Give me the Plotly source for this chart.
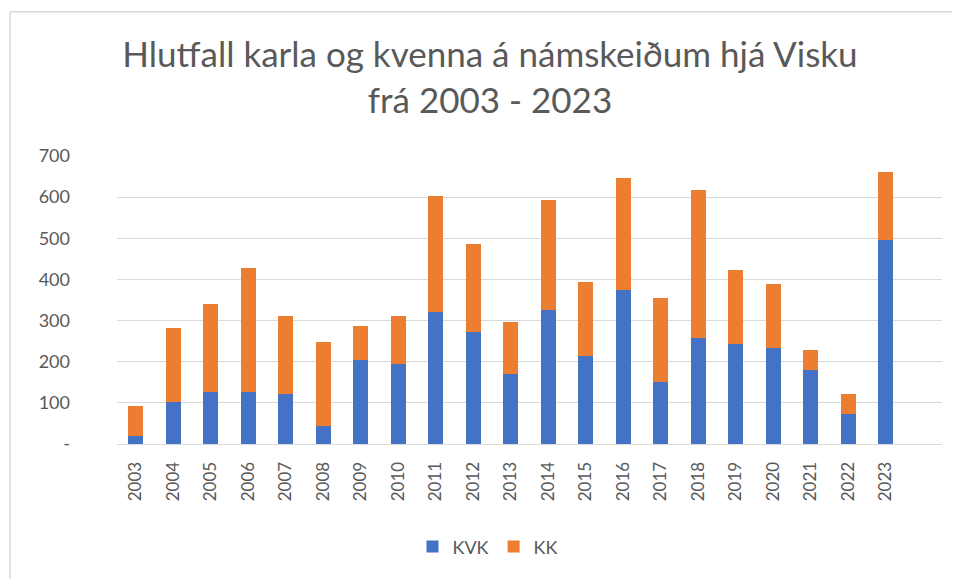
import plotly.graph_objects as go

years = list(range(2003, 2024))
kvk = [20, 102, 127, 127, 122, 44, 205, 195, 321, 273, 171, 326, 214, 375, 151, 258, 244, 234, 180, 74, 496]
kk = [72, 180, 213, 301, 189, 204, 81, 116, 282, 212, 125, 267, 180, 271, 204, 359, 179, 155, 49, 48, 165]
ytick_vals = [0, 100, 200, 300, 400, 500, 600, 700]
ytick_text = ["-", "100", "200", "300", "400", "500", "600", "700"]

OFF = 8  # default page body margin
W, H = 960 - OFF, 579 - OFF
L, R, T, B = 117 - OFF, 18, 155.5 - OFF, 135
pw = W - L - R
ph = H - T - B

FONT = "Lato"
GREY = "#595959"

fig = go.Figure()
fig.add_trace(go.Bar(x=years, y=kvk, name="KVK", marker=dict(color="#4472C4", line=dict(width=0))))
fig.add_trace(go.Bar(x=years, y=kk, name="KK", marker=dict(color="#ED7D31", line=dict(width=0))))

def px2x(px):
    return (px - OFF - L) / pw

def py2y(py):
    return (H - B - (py - OFF)) / ph

shapes = [
    dict(type="line", xref="paper", yref="paper", x0=px2x(10), x1=px2x(960), y0=py2y(11), y1=py2y(11),
         line=dict(color="#D9D9D9", width=1.5)),
    dict(type="line", xref="paper", yref="paper", x0=px2x(10), x1=px2x(10), y0=py2y(11), y1=py2y(579),
         line=dict(color="#D9D9D9", width=1.5)),
]

fig.update_layout(
    width=W, height=H,
    margin=dict(l=L, r=R, t=T, b=B, autoexpand=False),
    barmode="stack",
    bargap=0.59,
    plot_bgcolor="white",
    paper_bgcolor="white",
    font=dict(family=FONT, color=GREY),
    title=dict(
        text="Hlutfall karla og kvenna á námskeiðum hjá Visku<br>frá 2003 - 2023",
        x=(490 - OFF) / W, xanchor="center", xref="container",
        y=1 - (67 - OFF) / H, yanchor="top", yref="container",
        font=dict(family=FONT, size=35, color=GREY),
    ),
    xaxis=dict(
        range=[2002.5, 2024.5],
        tickmode="array", tickvals=years, ticktext=[str(y) for y in years],
        tickangle=-90,
        tickfont=dict(family=FONT, size=17, color=GREY),
        showgrid=False,
        showline=True, linecolor="#D9D9D9", linewidth=1,
        ticks="", ticklabelstandoff=10,
        fixedrange=True,
    ),
    yaxis=dict(
        range=[0, 700],
        tickmode="array", tickvals=ytick_vals, ticktext=ytick_text,
        tickfont=dict(family=FONT, size=18, color=GREY),
        showgrid=True, gridcolor="#D9D9D9", gridwidth=1,
        zeroline=False, showline=False,
        ticks="", ticklabelstandoff=46,
        fixedrange=True,
    ),
    legend=dict(
        orientation="h", x=px2x(488), xanchor="center", y=py2y(547), yanchor="middle",
        font=dict(family=FONT, size=18, color=GREY),
        traceorder="normal",
    ),
    shapes=shapes,
    showlegend=True,
)

fig.write_html("out.html")
